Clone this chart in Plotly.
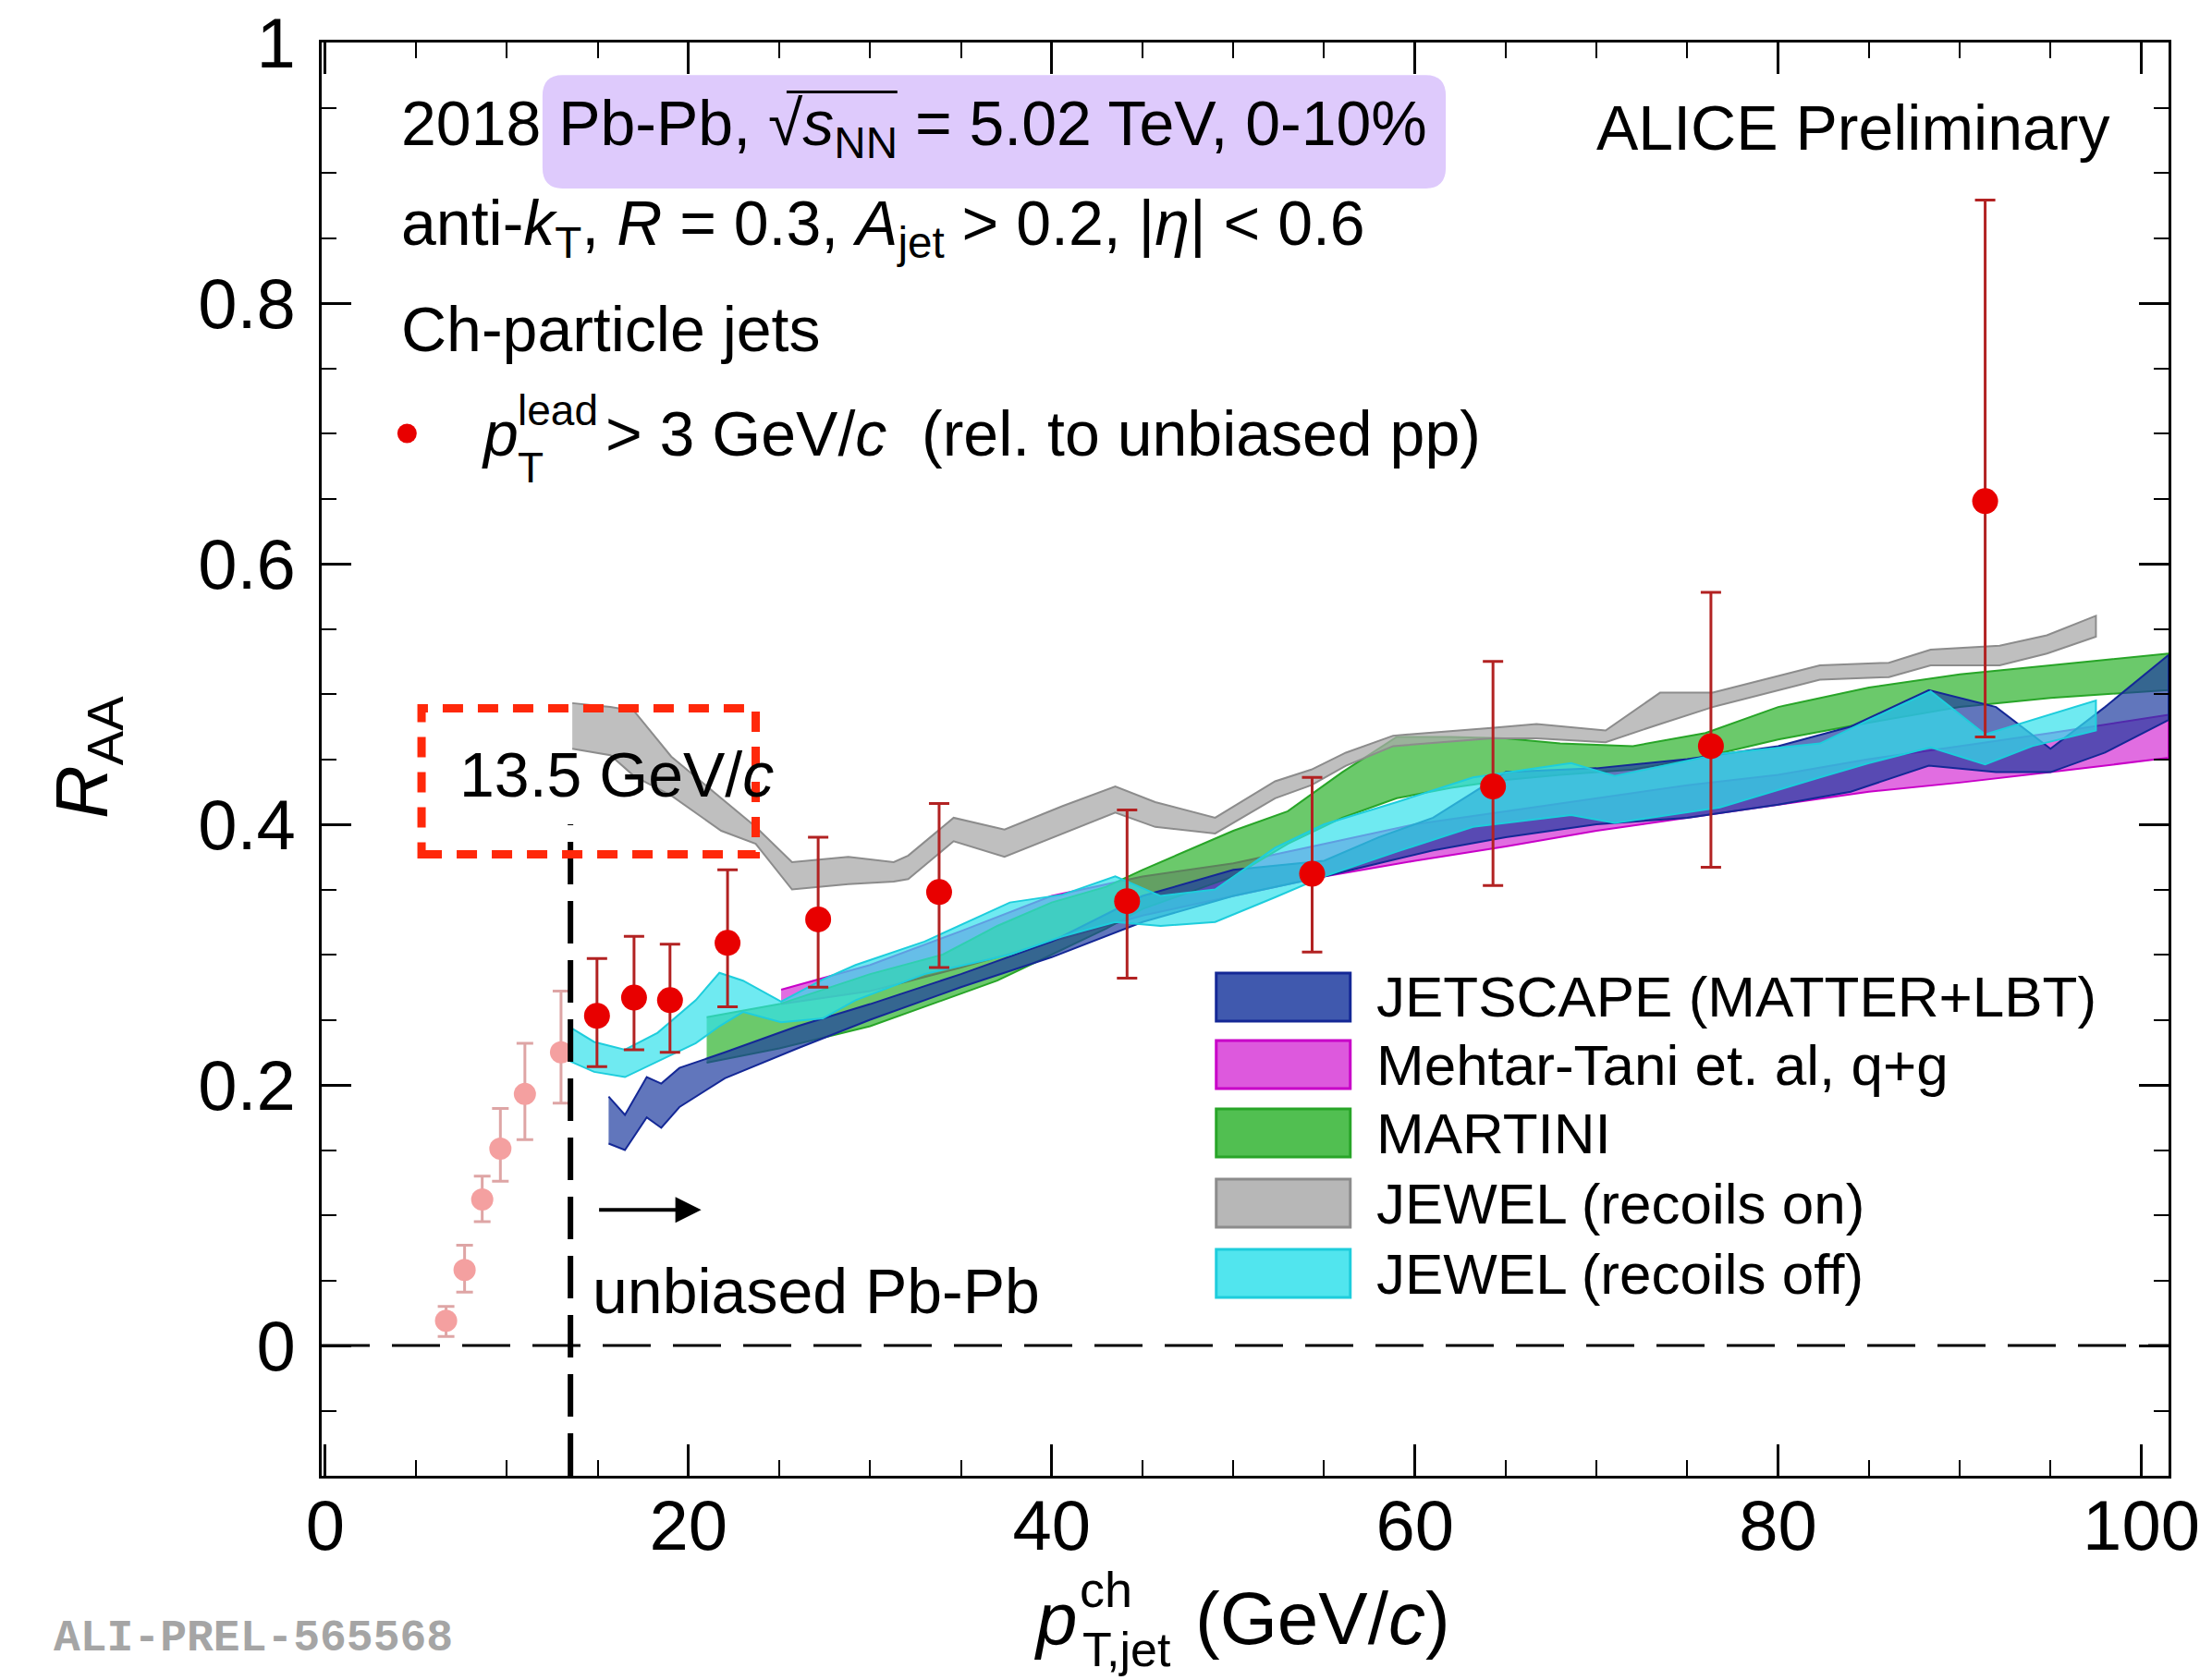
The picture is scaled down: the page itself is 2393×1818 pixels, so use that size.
import plotly.graph_objects as go

# ---------------- data ----------------
# Measured R_AA, pT_lead > 3 GeV/c (rel. to unbiased pp)
meas_x = [14.96, 17.0, 18.98, 22.15, 27.14, 33.8, 44.15, 54.34, 64.3, 76.3, 91.4]
meas_y = [0.253, 0.267, 0.265, 0.309, 0.327, 0.348, 0.341, 0.362, 0.429, 0.460, 0.648]
meas_hi = [0.297, 0.314, 0.308, 0.365, 0.390, 0.416, 0.411, 0.436, 0.525, 0.578, 0.879]
meas_lo = [0.214, 0.227, 0.225, 0.260, 0.275, 0.290, 0.282, 0.302, 0.353, 0.367, 0.467]

# Points below the 13.5 GeV/c threshold (faded)
low_x = [6.65, 7.67, 8.64, 9.64, 10.99, 12.98]
low_y = [0.019, 0.058, 0.112, 0.151, 0.193, 0.225]
low_hi = [0.030, 0.077, 0.130, 0.182, 0.232, 0.272]
low_lo = [0.007, 0.041, 0.095, 0.126, 0.158, 0.186]

# JETSCAPE (MATTER+LBT)
jet_x = [15.6, 16.5, 17.7, 18.5, 19.5, 22, 26, 30, 35, 40, 45, 50, 55, 58, 61, 65, 70, 75, 80, 84, 88.3, 92, 95, 98, 101.5]
jet_top = [0.191, 0.177, 0.206, 0.201, 0.213, 0.225, 0.245, 0.262, 0.285, 0.31, 0.345, 0.365, 0.372, 0.39, 0.405, 0.44, 0.443, 0.45, 0.46, 0.475, 0.503, 0.49, 0.458, 0.49, 0.53]
jet_bot = [0.155, 0.150, 0.175, 0.167, 0.183, 0.205, 0.228, 0.25, 0.275, 0.298, 0.325, 0.345, 0.36, 0.37, 0.38, 0.39, 0.40, 0.405, 0.415, 0.425, 0.445, 0.44, 0.44, 0.455, 0.48]

# Mehtar-Tani et al., q+g
mt_x = [25.1, 30, 35, 40, 45, 50, 55, 60, 65, 70, 75, 80, 85, 90, 95, 101.5]
mt_top = [0.273, 0.292, 0.318, 0.345, 0.36, 0.37, 0.385, 0.40, 0.41, 0.42, 0.43, 0.438, 0.45, 0.46, 0.47, 0.484]
mt_bot = [0.262, 0.272, 0.29, 0.31, 0.33, 0.345, 0.36, 0.372, 0.383, 0.395, 0.405, 0.415, 0.425, 0.432, 0.44, 0.451]

# MARTINI
mar_x = [21.0, 25, 30, 34, 37, 40, 43, 45, 50, 53, 56, 59, 62, 65, 68, 72, 76, 80, 85, 90, 95, 101.5]
mar_top = [0.252, 0.262, 0.285, 0.30, 0.322, 0.34, 0.352, 0.365, 0.395, 0.41, 0.44, 0.467, 0.467, 0.466, 0.462, 0.46, 0.47, 0.49, 0.505, 0.515, 0.522, 0.531]
mar_bot = [0.217, 0.228, 0.245, 0.265, 0.28, 0.30, 0.32, 0.335, 0.36, 0.385, 0.405, 0.42, 0.428, 0.434, 0.438, 0.442, 0.452, 0.465, 0.478, 0.49, 0.497, 0.503]

# JEWEL (recoils on)
jon_x = [13.6, 15.7, 17.0, 19.05, 21.8, 23.7, 25.7, 28.8, 31.3, 32.1, 34.6, 37.4, 40.6, 43.5, 45.7, 49.0, 52.3, 54.3, 56.2, 58.8, 64.2, 66.7, 70.5, 73.5, 76.4, 79.2, 82.3, 86.1, 88.4, 92.2, 94.8, 97.5]
jon_top = [0.493, 0.490, 0.487, 0.452, 0.42, 0.398, 0.371, 0.375, 0.371, 0.376, 0.405, 0.396, 0.414, 0.429, 0.417, 0.405, 0.433, 0.442, 0.455, 0.468, 0.474, 0.477, 0.472, 0.501, 0.501, 0.511, 0.522, 0.524, 0.534, 0.537, 0.545, 0.560]
jon_bot = [0.458, 0.453, 0.437, 0.422, 0.395, 0.385, 0.350, 0.354, 0.356, 0.358, 0.387, 0.375, 0.393, 0.409, 0.398, 0.393, 0.420, 0.430, 0.445, 0.460, 0.466, 0.466, 0.463, 0.477, 0.490, 0.50, 0.511, 0.513, 0.522, 0.522, 0.531, 0.544]

# JEWEL (recoils off)
joff_x = [13.5, 14.8, 16.5, 18.3, 20.4, 21.7, 23.0, 25.1, 27.4, 29.2, 33, 37.7, 40.6, 43.5, 46, 49, 52.3, 55, 59, 63.2, 68.6, 71, 76.8, 82.3, 85, 88.4, 91.4, 94, 97.5]
joff_top = [0.244, 0.233, 0.227, 0.24, 0.265, 0.286, 0.28, 0.264, 0.281, 0.292, 0.31, 0.34, 0.346, 0.36, 0.345, 0.35, 0.382, 0.40, 0.417, 0.436, 0.447, 0.437, 0.454, 0.462, 0.48, 0.502, 0.469, 0.48, 0.495]
joff_bot = [0.218, 0.21, 0.206, 0.218, 0.232, 0.245, 0.256, 0.248, 0.251, 0.265, 0.285, 0.30, 0.314, 0.325, 0.322, 0.325, 0.344, 0.36, 0.379, 0.398, 0.407, 0.401, 0.413, 0.436, 0.447, 0.459, 0.446, 0.46, 0.472]

models = [
    ("JETSCAPE (MATTER+LBT)", jet_x, jet_top, jet_bot, "rgba(30,60,160,0.70)", "rgb(20,40,150)"),
    ("Mehtar-Tani et. al, q+g", mt_x, mt_top, mt_bot, "rgba(215,60,215,0.75)", "rgb(200,0,200)"),
    ("MARTINI", mar_x, mar_top, mar_bot, "rgba(50,180,50,0.72)", "rgb(40,165,40)"),
    ("JEWEL (recoils on)", jon_x, jon_top, jon_bot, "rgba(170,170,170,0.75)", "rgb(140,140,140)"),
    ("JEWEL (recoils off)", joff_x, joff_top, joff_bot, "rgba(50,225,235,0.70)", "rgb(30,205,220)"),
]
draw_order = [1, 2, 3, 0, 4]

FONT = "Liberation Sans, Arial, Helvetica, sans-serif"

fig = go.Figure()

for i in draw_order:
    name, xs, top, bot, fc, lc = models[i]
    fig.add_trace(go.Scatter(
        x=xs + xs[::-1], y=top + bot[::-1], fill="toself", fillcolor=fc,
        mode="lines", line=dict(color=lc, width=2), name=name,
        hoverinfo="skip", showlegend=False))

# faded low-pT points
fig.add_trace(go.Scatter(
    x=low_x, y=low_y, mode="markers",
    marker=dict(color="rgb(244,160,160)", size=24),
    error_y=dict(type="data", symmetric=False,
                 array=[h - y for h, y in zip(low_hi, low_y)],
                 arrayminus=[y - l for l, y in zip(low_lo, low_y)],
                 color="rgb(222,165,165)", thickness=3, width=9),
    showlegend=False))

# measured points
fig.add_trace(go.Scatter(
    x=meas_x, y=meas_y, mode="markers",
    marker=dict(color="rgb(232,0,0)", size=28),
    error_y=dict(type="data", symmetric=False,
                 array=[h - y for h, y in zip(meas_hi, meas_y)],
                 arrayminus=[y - l for l, y in zip(meas_lo, meas_y)],
                 color="rgb(178,34,34)", thickness=3, width=11),
    showlegend=False))

# legend marker for measured points
fig.add_trace(go.Scatter(x=[4.5], y=[0.700], mode="markers",
                         marker=dict(color="rgb(232,0,0)", size=21),
                         showlegend=False, hoverinfo="skip"))

shapes = []
# y = 0 dashed line
shapes.append(dict(type="line", xref="x", yref="y", x0=-0.2, x1=101.5, y0=0, y1=0,
                   line=dict(color="black", width=3, dash="52px,24px"), layer="above"))
# 13.5 GeV/c threshold line
shapes.append(dict(type="line", xref="x", yref="y", x0=13.5, x1=13.5, y0=-0.1, y1=0.4,
                   line=dict(color="black", width=6, dash="46px,18px"), layer="above"))
# red dashed box
shapes.append(dict(type="rect", xref="x", yref="y", x0=5.3, x1=23.7, y0=0.377, y1=0.489,
                   line=dict(color="rgb(255,40,10)", width=9, dash="22px,16px"),
                   fillcolor="rgba(0,0,0,0)", layer="above"))
# lavender highlight box (rounded)
bx0, bx1, by0, by1, rx, ry = 11.96, 61.7, 0.888, 0.975, 1.1, 0.016
path = (f"M {bx0+rx},{by0} L {bx1-rx},{by0} Q {bx1},{by0} {bx1},{by0+ry} "
        f"L {bx1},{by1-ry} Q {bx1},{by1} {bx1-rx},{by1} L {bx0+rx},{by1} "
        f"Q {bx0},{by1} {bx0},{by1-ry} L {bx0},{by0+ry} Q {bx0},{by0} {bx0+rx},{by0} Z")
shapes.append(dict(type="path", xref="x", yref="y", path=path,
                   fillcolor="rgb(222,202,252)", line=dict(width=0), layer="below"))
# overline of the square root
shapes.append(dict(type="line", xref="x", yref="y", x0=25.4, x1=31.5, y0=0.962, y1=0.962,
                   line=dict(color="black", width=3)))

# legend swatches
leg_y = [0.2674, 0.2156, 0.1631, 0.1092, 0.0553]
for (name, xs, top, bot, fc, lc), yy in zip(models, leg_y):
    shapes.append(dict(type="rect", xref="x", yref="y", x0=49.06, x1=56.44,
                       y0=yy - 0.0185, y1=yy + 0.0185,
                       fillcolor=fc.rsplit(",", 1)[0] + ",0.85)", line=dict(color=lc, width=3)))

annotations = []
def txt(x, y, s, size=68, xanchor="left", yanchor="middle", color="black", family=FONT, ref="data", **kw):
    xr, yr = ("x", "y") if ref == "data" else ("paper", "paper")
    annotations.append(dict(x=x, y=y, xref=xr, yref=yr, text=s, showarrow=False,
                            xanchor=xanchor, yanchor=yanchor,
                            font=dict(size=size, color=color, family=family), **kw))

txt(4.07, 0.935, "2018 Pb-Pb, √<i>s</i><sub>NN</sub> = 5.02 TeV, 0-10%")
txt(98.4, 0.935, "ALICE Preliminary", xanchor="right")
txt(4.07, 0.858, "anti-<i>k</i><sub>T</sub>, <i>R</i> = 0.3, <i>A</i><sub>jet</sub> &gt; 0.2, |<i>η</i>| &lt; 0.6")
txt(4.07, 0.780, "Ch-particle jets")
txt(8.5, 0.700, "<i>p</i>")
txt(10.5, 0.718, "lead", size=46)
txt(10.5, 0.674, "T", size=46)
txt(15.3, 0.700, "&gt; 3 GeV/<i>c</i>  (rel. to unbiased pp)")

txt(7.3, 0.438, "13.5 GeV/<i>c</i>")
txt(14.6, 0.042, "unbiased Pb-Pb")

for (name, *_), yy in zip(models, leg_y):
    txt(57.8, yy, name, size=62)

# arrow
annotations.append(dict(x=20.7, y=0.104, ax=15.0, ay=0.104, xref="x", yref="y",
                        axref="x", ayref="y", text="", showarrow=True,
                        arrowhead=2, arrowsize=1.4, arrowwidth=4, arrowcolor="black"))

# axis titles (paper coordinates, outside plot area)
txt(0.3849, -0.0993, "<i>p</i>", size=80, ref="paper")
txt(0.4094, -0.0790, "ch", size=54, ref="paper")
txt(0.4110, -0.1215, "T,jet", size=52, ref="paper")
txt(0.4722, -0.0993, "(GeV/<i>c</i>)", size=80, ref="paper")
annotations.append(dict(x=-0.1266, y=0.501, xref="paper", yref="paper", text="<i>R</i><sub>AA</sub>",
                        showarrow=False, textangle=-90, xanchor="center", yanchor="middle",
                        font=dict(size=80, color="black", family=FONT)))

# ALI-PREL label
txt(-0.146, -0.1135, "<b>ALI-PREL-565568</b>", size=48, color="rgb(165,165,165)",
    family="Liberation Mono, Courier New, monospace", ref="paper")

# page body has an 8 px margin: shrink the figure by that amount
fig.update_layout(
    width=2385, height=1810,
    margin=dict(l=340, r=47, t=38, b=221, autoexpand=False),
    paper_bgcolor="white", plot_bgcolor="white",
    shapes=shapes, annotations=annotations,
    font=dict(family=FONT, color="black"),
)
fig.update_xaxes(range=[-0.2, 101.5], showgrid=False, zeroline=False, automargin=False,
                 showline=True, linecolor="black", linewidth=3, mirror="ticks",
                 ticks="inside", ticklen=34, tickwidth=2.5, tickcolor="black",
                 tickvals=[0, 20, 40, 60, 80, 100],
                 ticktext=["0", "20", "40", "60", "80", "100"],
                 tickfont=dict(size=76, family=FONT, color="black"),
                 ticklabelstandoff=-14, ticklabeloverflow="allow",
                 minor=dict(dtick=5, tick0=0, ticks="inside", ticklen=17, tickwidth=2, tickcolor="black"))
fig.update_yaxes(range=[-0.1, 1.0], showgrid=False, zeroline=False, automargin=False,
                 showline=True, linecolor="black", linewidth=3, mirror="ticks",
                 ticks="inside", ticklen=32, tickwidth=2.5, tickcolor="black",
                 tickvals=[0, 0.2, 0.4, 0.6, 0.8, 1.0],
                 ticktext=["0", "0.2", "0.4", "0.6", "0.8", "1"],
                 tickfont=dict(size=76, family=FONT, color="black"),
                 ticklabelstandoff=10, ticklabeloverflow="allow",
                 minor=dict(dtick=0.05, tick0=0, ticks="inside", ticklen=16, tickwidth=2, tickcolor="black"))

fig.write_html("out.html")
